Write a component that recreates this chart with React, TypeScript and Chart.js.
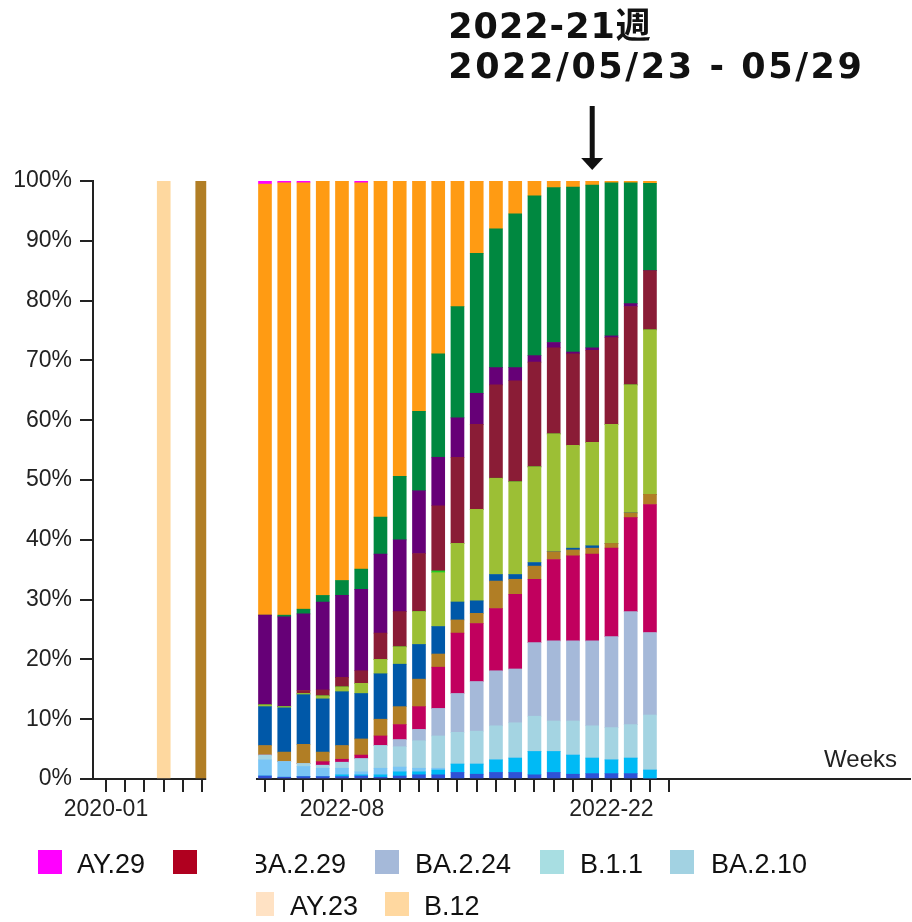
import React, { useEffect, useRef } from 'react';
import { Chart, registerables } from 'chart.js';

Chart.register(...registerables);

// ---------- data ----------
const weeks = [
  '2022-04', '2022-05', '2022-06', '2022-07', '2022-08', '2022-09', '2022-10',
  '2022-11', '2022-12', '2022-13', '2022-14', '2022-15', '2022-16', '2022-17',
  '2022-18', '2022-19', '2022-20', '2022-21', '2022-22', '2022-23', '2022-24',
];
const tickWeeks = [
  '2020-01', '2020-02', '2020-03', '2020-04', '2020-05', '2020-06',
  '2022-04', '2022-05', '2022-06', '2022-07', '2022-08', '2022-09', '2022-10',
  '2022-11', '2022-12', '2022-13', '2022-14', '2022-15', '2022-16', '2022-17',
  '2022-18', '2022-19', '2022-20', '2022-21', '2022-22', '2022-23', '2022-24', '2022-25',
];
const labeledWeeks = ['2020-01', '2022-08', '2022-22'];
const highlightWeek = '2022-21';
const highlightText = ['2022-21週', '2022/05/23 - 05/29'];
const xTitle = 'Weeks';
const yTickValues = [0, 10, 20, 30, 40, 50, 60, 70, 80, 90, 100];

const peachWeek = '2020-04';
const peachValue = 100;
const brownWeek = '2020-06';
const brownValue = 100;

const sDarkBlue = [0.5, 0.3, 0.4, 0.4, 0.4, 0.5, 0.3, 0.5, 0.7, 0.7, 1.1, 0.8, 1.1, 1.1, 0.7, 1.1, 0.8, 0.9, 0.9, 0.9, 0];
const sDeepSky = [0, 0, 0, 0, 0.3, 0.2, 0.4, 0.7, 0.5, 0.8, 1.4, 1.7, 2.1, 2.4, 3.9, 3.5, 3.2, 2.6, 2.3, 2.6, 1.5];
const sLightSky = [2.7, 2.6, 1.7, 1.4, 1.1, 0.5, 1.1, 0.8, 0.6, 0.3, 0, 0, 0, 0, 0, 0, 0, 0, 0, 0, 0];
const sPowder = [0.8, 0, 0.5, 0.5, 1.0, 2.2, 3.8, 3.4, 4.6, 5.4, 5.3, 5.5, 5.7, 5.9, 5.9, 5.1, 5.7, 5.4, 5.4, 5.6, 9.2];
const sSteel = [0, 0, 0, 0, 0, 0, 0, 1.2, 1.9, 4.6, 6.5, 8.3, 9.2, 9.0, 12.3, 13.4, 13.4, 14.2, 15.2, 18.9, 13.8];
const sCrimson = [0, 0, 0, 0.6, 0.5, 0.6, 1.6, 2.5, 3.8, 6.9, 10.1, 9.7, 10.4, 12.5, 10.6, 13.6, 14.2, 14.5, 14.8, 15.7, 21.4];
const sGold = [1.6, 1.6, 3.2, 1.6, 2.3, 2.7, 2.8, 3.0, 4.6, 2.2, 2.2, 1.7, 4.6, 2.5, 2.2, 1.3, 1.0, 1.0, 0.8, 0.8, 1.7];
const sBlue = [6.5, 7.4, 8.3, 8.9, 9.0, 7.6, 7.6, 7.1, 5.8, 4.6, 3.0, 2.1, 1.1, 0.8, 0.6, 0, 0.3, 0.4, 0, 0, 0];
const sYellowGreen = [0.3, 0.2, 0.2, 0.5, 0.8, 1.7, 2.4, 2.9, 5.5, 9.0, 9.8, 15.3, 16.1, 15.5, 16.0, 19.7, 17.2, 17.3, 19.9, 21.4, 27.5];
const sBrightGreen = [0, 0, 0, 0, 0, 0, 0, 0, 0, 0.3, 0, 0, 0, 0, 0, 0, 0, 0, 0, 0, 0];
const sMaroon = [0, 0, 0.5, 1.0, 1.6, 2.1, 4.4, 5.9, 9.7, 10.9, 14.4, 14.2, 15.6, 16.9, 17.5, 14.4, 15.3, 15.4, 14.5, 13.1, 9.9];
const sPurple = [15.0, 15.0, 12.8, 14.7, 13.7, 13.6, 13.2, 12.0, 10.5, 8.1, 6.6, 5.2, 2.9, 2.2, 1.1, 0.9, 0.3, 0.4, 0.3, 0.5, 0];
const sGreen = [0, 0.3, 0.8, 1.1, 2.5, 3.4, 6.2, 10.6, 13.3, 17.3, 18.6, 23.4, 23.2, 25.7, 26.7, 25.9, 27.6, 27.2, 25.6, 20.2, 14.6];
const sOrange = [72.1, 72.3, 71.3, 69.3, 66.8, 64.6, 56.2, 49.4, 38.5, 28.9, 21.0, 12.1, 8.0, 5.5, 2.5, 1.1, 1.0, 0.7, 0.3, 0.3, 0.5];
const sMagenta = [0.5, 0.3, 0.3, 0, 0, 0.3, 0, 0, 0, 0, 0, 0, 0, 0, 0, 0, 0, 0, 0, 0, 0];

// legend entries visible in the reference
const legendRow1 = [
  { label: 'AY.29', color: '#ff00ff' },
  { label: '', color: '#b0001f' },
  { label: 'BA.2.29', color: '' },
  { label: 'BA.2.24', color: '#a5b9d9' },
  { label: 'B.1.1', color: '#a8dee2' },
  { label: 'BA.2.10', color: '#a2d2e2' },
];
const legendRow2 = [
  { label: 'AY.23', color: '#ffe2c4' },
  { label: 'B.12', color: '#ffd8a0' },
];

// ---------- layout helpers ----------
const BREAK_SHIFT = 4.26; // compressed axis break between 2020 and 2022
const slotOf = (w: string) => {
  const [yr, n] = w.split('-').map(Number);
  return yr === 2020 ? n - 1 : n + BREAK_SHIFT;
};
const keyOf = (v: number) => String(Math.round(v * 100));
const tickLabelMap = new Map<string, string>();
labeledWeeks.forEach((w) => tickLabelMap.set(keyOf(slotOf(w)), w));

const FONT = "'Liberation Sans', Arial, Helvetica, sans-serif";

export default function App() {
  const ref = useRef<HTMLCanvasElement | null>(null);

  useEffect(() => {
    if (!ref.current) return;
    const pts = (vals: number[]) => weeks.map((w, i) => ({ x: slotOf(w), y: vals[i] }));
    const mk = (label: string, color: string, data: { x: number; y: number }[]) => ({
      label,
      data,
      backgroundColor: color,
      borderWidth: 0,
      barThickness: 13,
    });
    const datasets = [
      mk('BA.2.3', '#2f52d6', pts(sDarkBlue)),
      mk('BA.2.3.2', '#00baf5', pts(sDeepSky)),
      mk('BA.1.1.2', '#79c5f5', pts(sLightSky)),
      mk('BA.2.10', '#a4d4e2', pts(sPowder)),
      mk('BA.2.24', '#a5b9d9', pts(sSteel)),
      mk('BA.2.12.1', '#c1005e', pts(sCrimson)),
      mk('B.1.1.214', '#b17e25', [...pts(sGold), { x: slotOf(brownWeek), y: brownValue }]),
      mk('BA.1.1.7', '#0058a8', pts(sBlue)),
      mk('BA.2.3.20', '#9cbf35', pts(sYellowGreen)),
      mk('BA.2.9', '#22cc22', pts(sBrightGreen)),
      mk('BA.2.18', '#8a1c36', pts(sMaroon)),
      mk('BA.1.1', '#660077', pts(sPurple)),
      mk('BA.2.3.4', '#008840', pts(sGreen)),
      mk('BA.1.1.18', '#ff9b13', pts(sOrange)),
      mk('AY.29', '#ff00ff', pts(sMagenta)),
      mk('B.12', '#fed89f', [{ x: slotOf(peachWeek), y: peachValue }]),
    ];

    const overlay = {
      id: 'overlay',
      afterDraw(chart: any) {
        const ctx = chart.ctx as CanvasRenderingContext2D;
        const xs = chart.scales.x;
        ctx.save();
        // axis break
        const gapL = xs.getPixelForValue(slotOf(brownWeek)) + 4;
        const gapR = xs.getPixelForValue(slotOf(weeks[0])) - 9;
        ctx.fillStyle = '#ffffff';
        ctx.fillRect(gapL, 0, gapR - gapL, chart.height);

        // axis title
        ctx.fillStyle = '#222';
        ctx.font = `24px ${FONT}`;
        ctx.textAlign = 'right';
        ctx.textBaseline = 'alphabetic';
        ctx.fillText(xTitle, chart.chartArea.right - 13, chart.chartArea.bottom - 12);

        // highlight annotation
        const bx = xs.getPixelForValue(slotOf(highlightWeek));
        ctx.fillStyle = '#111';
        ctx.textAlign = 'left';
        ctx.font = `bold 35px 'DejaVu Sans', Verdana, 'Noto Sans CJK JP', sans-serif`;
        (ctx as any).letterSpacing = '1px';
        ctx.fillText(highlightText[0], bx - 144, 38);
        (ctx as any).letterSpacing = '2.6px';
        ctx.fillText(highlightText[1], bx - 144, 78);
        (ctx as any).letterSpacing = '0px';
        // arrow
        ctx.fillRect(bx - 2.5, 106, 5, 54);
        ctx.beginPath();
        ctx.moveTo(bx - 11, 158);
        ctx.lineTo(bx + 11, 158);
        ctx.lineTo(bx, 170);
        ctx.closePath();
        ctx.fill();
        ctx.restore();
      },
    };

    const chart = new Chart(ref.current, {
      type: 'bar',
      data: { datasets: datasets as any },
      plugins: [overlay],
      options: {
        animation: false,
        responsive: false,
        maintainAspectRatio: false,
        layout: { padding: { top: 181, left: 0, right: 2, bottom: 0 } },
        plugins: { legend: { display: false }, tooltip: { enabled: false }, title: { display: false } },
        scales: {
          x: {
            type: 'linear',
            stacked: true,
            offset: false,
            min: -0.675,
            max: 41.77,
            grid: { offset: false, drawOnChartArea: false, drawTicks: true, tickLength: 13, lineWidth: 2, color: '#222' },
            border: { display: true, color: '#222', width: 2 },
            ticks: {
              autoSkip: false,
              maxRotation: 0,
              minRotation: 0,
              padding: 4,
              color: '#222',
              font: { family: FONT, size: 23 },
              callback: (v: any) => tickLabelMap.get(keyOf(Number(v))) ?? '',
            },
            afterBuildTicks: (s: any) => {
              s.ticks = tickWeeks.map((w) => ({ value: slotOf(w) }));
            },
            afterFit: (s: any) => {
              s.height = 143;
            },
          },
          y: {
            type: 'linear',
            stacked: true,
            min: 0,
            max: 100,
            grid: { drawOnChartArea: false, drawTicks: true, tickLength: 13, lineWidth: 2, color: '#222' },
            border: { display: true, color: '#222', width: 2 },
            ticks: {
              padding: 8,
              color: '#222',
              font: { family: FONT, size: 23 },
              callback: (v: any) => `${v}%`,
            },
            afterBuildTicks: (s: any) => {
              s.ticks = yTickValues.map((v) => ({ value: v }));
            },
            afterFit: (s: any) => {
              s.width = 93;
            },
          },
        },
      } as any,
    });
    return () => chart.destroy();
  }, []);

  const sq = (left: number, top: number, color: string, width = 24) => (
    <div style={{ position: 'absolute', left, top, width, height: 24, background: color }} />
  );
  const txt = (left: number, top: number, label: string) => (
    <div style={{ position: 'absolute', left, top, fontFamily: FONT, fontSize: 27, lineHeight: '27px', color: '#111', whiteSpace: 'nowrap' }}>
      {label}
    </div>
  );

  return (
    <div style={{ position: 'absolute', left: 0, top: 0, width: 912, height: 922, background: '#fff', overflow: 'hidden' }}>
      <canvas ref={ref} width={912} height={922} style={{ width: 912, height: 922, display: 'block' }} />
      {/* legend row 1 */}
      {sq(38, 850, legendRow1[0].color)}
      {txt(77, 851, legendRow1[0].label)}
      {sq(173, 850, legendRow1[1].color)}
      <div style={{ position: 'absolute', left: 256, top: 851, width: 100, height: 30, overflow: 'hidden' }}>
        <div style={{ position: 'absolute', left: -6, top: 0, fontFamily: FONT, fontSize: 27, lineHeight: '27px', color: '#111', whiteSpace: 'nowrap' }}>
          {legendRow1[2].label}
        </div>
      </div>
      {sq(375, 850, legendRow1[3].color)}
      {txt(415, 851, legendRow1[3].label)}
      {sq(540, 850, legendRow1[4].color)}
      {txt(580, 851, legendRow1[4].label)}
      {sq(670, 850, legendRow1[5].color)}
      {txt(711, 851, legendRow1[5].label)}
      {/* legend row 2 */}
      {sq(256, 892, legendRow2[0].color, 18)}
      {txt(290, 893, legendRow2[0].label)}
      {sq(385, 892, legendRow2[1].color)}
      {txt(424, 893, legendRow2[1].label)}
    </div>
  );
}
